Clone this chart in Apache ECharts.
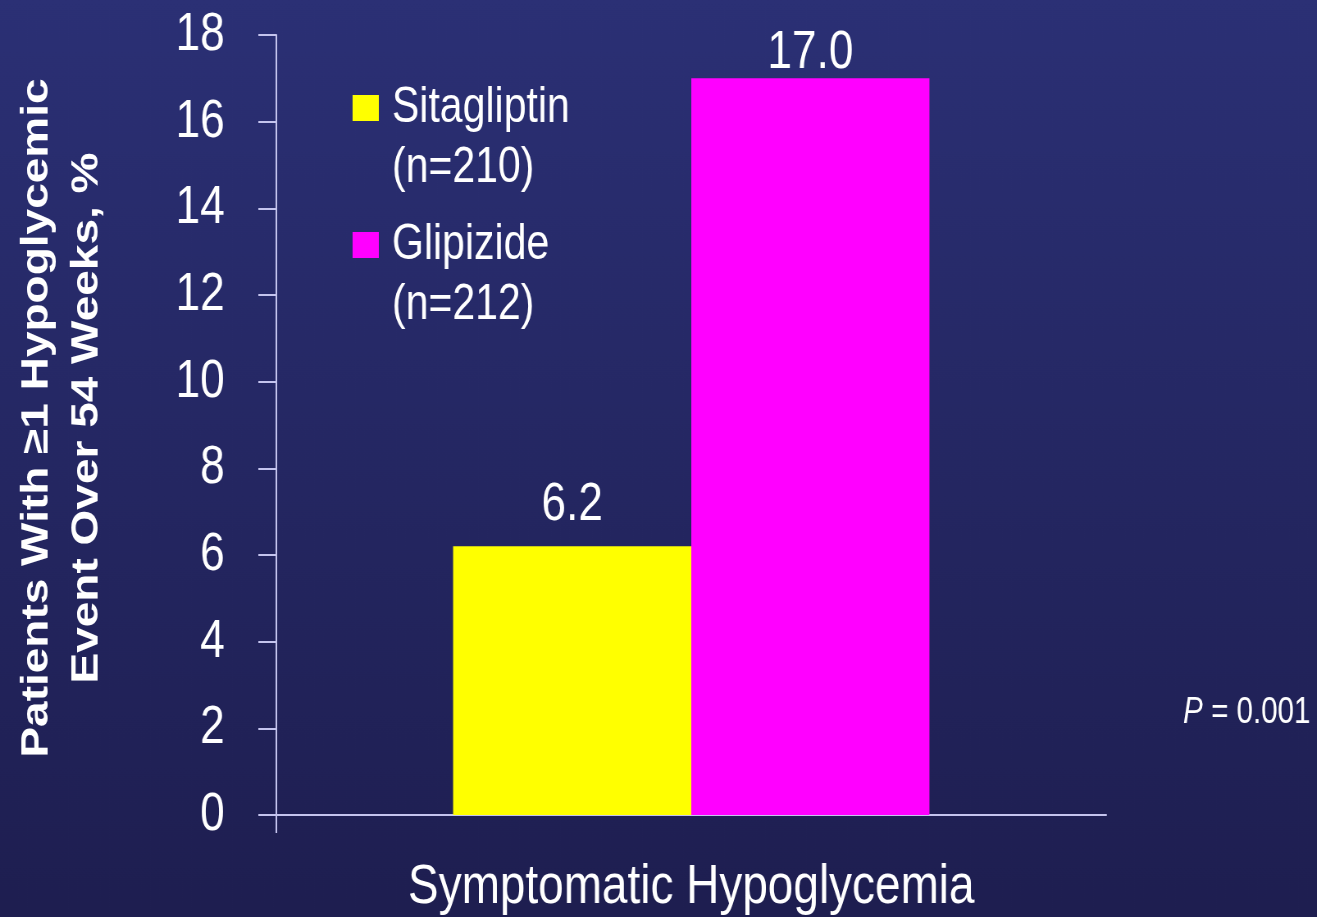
<!DOCTYPE html>
<html>
<head>
<meta charset="utf-8">
<title>Symptomatic Hypoglycemia</title>
<script src="https://cdn.jsdelivr.net/npm/echarts@6/dist/echarts.min.js"></script>
<style>
  html, body { margin: 0; padding: 0; overflow: hidden; background: #1e1f50; }
  /* The slide typography is condensed: the chart is laid out wider and narrowed horizontally. */
  #chart {
    width: 1606px;
    height: 917px;
    transform: scaleX(0.82);
    transform-origin: 0 0;
  }
</style>
</head>
<body>
<div id="chart"></div>
<script>
// Categories and values
const categories = ['Symptomatic Hypoglycemia'];
const seriesNames = ['Sitagliptin', 'Glipizide'];
const seriesCounts = ['(n=210)', '(n=212)'];
const sitagliptinValues = [6.2];
const glipizideValues = [17.0];
const yTicks = { min: 0, max: 18, interval: 2 };
const pValueText = '0.001';

const SANS = "'Liberation Sans', Arial, sans-serif";
const AXIS_COLOR = '#c4c4ee';

const chart = echarts.init(document.getElementById('chart'));

// One legend per series: swatch beside the drug name, sample size on the line below.
function legendFor(idx, top) {
  return {
    data: [seriesNames[idx]],
    left: 430,
    top: top,
    orient: 'vertical',
    padding: 0,
    itemWidth: 32,
    itemHeight: 26,
    icon: 'rect',
    selectedMode: false,
    formatter: name => '{s| }\n{a|' + name + '}\n{a|' + seriesCounts[seriesNames.indexOf(name)] + '}',
    textStyle: {
      color: '#ffffff',
      fontFamily: SANS,
      fontSize: 50,
      lineHeight: 60,
      rich: {
        s: { fontSize: 50, lineHeight: 60 },
        a: { color: '#ffffff', fontFamily: SANS, fontSize: 50, lineHeight: 60, padding: [0, 0, 0, 11] }
      }
    }
  };
}

const valueLabel = (distance) => ({
  show: true,
  position: 'top',
  distance: distance,
  color: '#ffffff',
  fontFamily: SANS,
  fontSize: 54,
  formatter: p => p.value.toFixed(1)
});

chart.setOption({
  backgroundColor: {
    type: 'linear', x: 0, y: 0, x2: 0, y2: 1,
    colorStops: [
      { offset: 0, color: '#2b3075' },
      { offset: 1, color: '#1e1e50' }
    ]
  },
  animation: false,
  title: {
    text: '{i|P} = ' + pValueText,
    right: 8,
    top: 695,
    padding: 0,
    textStyle: {
      color: '#ffffff',
      fontFamily: SANS,
      fontSize: 36,
      fontWeight: 'normal',
      rich: {
        i: { fontFamily: SANS, fontStyle: 'italic', fontSize: 36, color: '#ffffff' }
      }
    }
  },
  legend: [legendFor(0, 18), legendFor(1, 155)],
  grid: {
    left: 337, right: 257, top: 35, bottom: 102,
    containLabel: false,
    outerBoundsMode: 'none'
  },
  xAxis: [
    {
      type: 'category',
      data: categories,
      axisLine: { show: true, lineStyle: { color: AXIS_COLOR, width: 2 } },
      axisTick: { show: false },
      axisLabel: {
        color: '#ffffff',
        fontFamily: SANS,
        fontSize: 56,
        margin: 45
      }
    },
    {
      // helper axis: only the short stub below the origin
      type: 'value',
      position: 'bottom',
      min: 0,
      max: 1,
      axisLine: { show: false },
      axisLabel: { show: false },
      splitLine: { show: false },
      axisTick: {
        show: true,
        length: 18,
        customValues: [0],
        lineStyle: { color: AXIS_COLOR, width: 2 }
      }
    }
  ],
  yAxis: {
    type: 'value',
    min: yTicks.min,
    max: yTicks.max,
    interval: yTicks.interval,
    name: 'Patients With \u22651 Hypoglycemic\nEvent Over 54 Weeks, %',
    nameLocation: 'middle',
    nameRotate: 90,
    nameGap: 200,
    nameTextStyle: {
      color: '#ffffff',
      fontFamily: SANS,
      fontWeight: 'bold',
      fontSize: 46,
      lineHeight: 61,
      align: 'center',
      padding: [0, 0, 0, 14]
    },
    axisLine: { show: true, lineStyle: { color: AXIS_COLOR, width: 2 } },
    axisTick: { show: true, length: 22, lineStyle: { color: AXIS_COLOR, width: 2 } },
    splitLine: { show: false },
    axisLabel: {
      color: '#ffffff',
      fontFamily: SANS,
      fontSize: 54,
      margin: 63
    }
  },
  series: [
    {
      name: seriesNames[0],
      type: 'bar',
      data: sitagliptinValues,
      barWidth: '28.7%',
      barGap: '0%',
      itemStyle: { color: '#ffff00' },
      label: valueLabel(14)
    },
    {
      name: seriesNames[1],
      type: 'bar',
      data: glipizideValues,
      barWidth: '28.7%',
      barGap: '0%',
      itemStyle: { color: '#ff00ff' },
      label: valueLabel(-2)
    }
  ]
});
</script>
</body>
</html>
